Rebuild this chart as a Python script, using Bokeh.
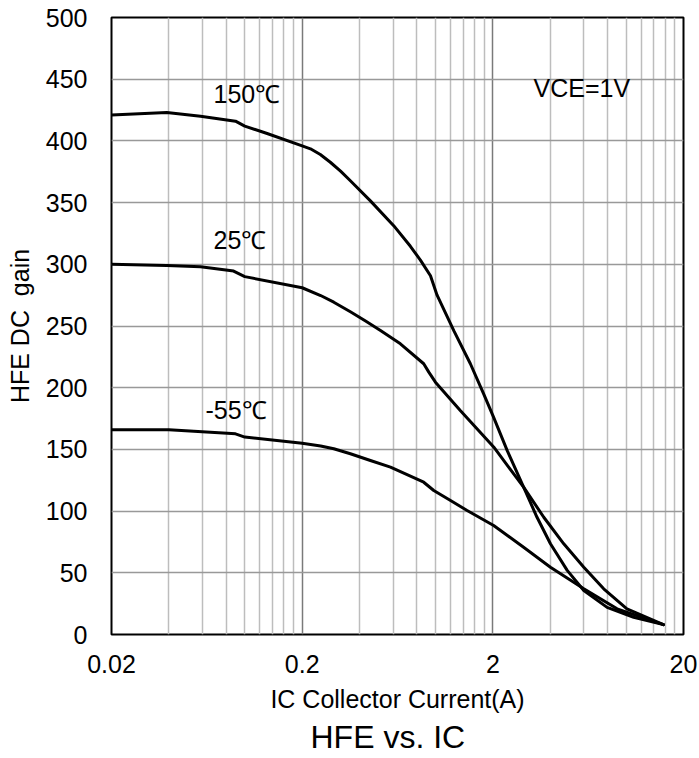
from bokeh.plotting import figure
from bokeh.models import Range1d, FixedTicker
from bokeh.core.properties import value
from bokeh.embed import file_html
from bokeh.resources import INLINE

# ---- data ----
ic_150 = [0.02, 0.039, 0.0586, 0.0894, 0.1, 0.131, 0.2, 0.221, 0.249, 0.281, 0.318, 0.358,
          0.456, 0.604, 0.739, 0.834, 0.942, 1.02, 1.25, 1.525, 1.79, 2.02, 2.38, 2.9,
          3.41, 4.01, 4.91, 6.0, 7.95, 10.96, 15.7]
hfe_150 = [421, 423, 420, 416, 412, 406, 396, 393.6, 389, 382.7, 375.5, 367.7,
           351.4, 331.3, 314.6, 303.4, 290.7, 275, 246, 219.4, 195, 176, 149, 119.4,
           95, 73.5, 52, 35.7, 22, 14, 8]

ic_25 = [0.02, 0.039, 0.0586, 0.0874, 0.1, 0.2, 0.25, 0.293, 0.358, 0.43, 0.515, 0.655,
         0.868, 0.923, 1.0, 1.35, 2.02, 2.9, 3.7, 4.71, 6.0, 7.63, 10.1, 15.7]
hfe_25 = [300, 299, 298, 294.5, 290, 281, 274.7, 269.3, 261.5, 254, 246.4, 235.6,
          219.4, 212.6, 204.5, 181.5, 152, 119.4, 95, 73.5, 54.5, 37, 20.8, 8]

ic_m55 = [0.02, 0.04, 0.0894, 0.1, 0.2, 0.25, 0.293, 0.358, 0.456, 0.581, 0.868, 0.98, 1.2,
          1.466, 2.02, 2.9, 4.01, 6.0, 8.97, 15.7]
hfe_m55 = [166, 166, 162.6, 160, 155, 152.8, 150.5, 146.5, 141, 135.6, 123.4, 116.7, 108.6,
           100.5, 88.3, 70.7, 54.5, 37, 20.8, 8]

label_text = ["150℃", "25℃", "-55℃", "VCE=1V"]
label_x = [0.0686, 0.0686, 0.0622, 3.27]
label_y = [438, 320, 182, 443]

x_ticks = [0.02, 0.2, 2, 20]
x_tick_labels = ["0.02", "0.2", "2", "20"]
x_minor_ticks = [0.04, 0.06, 0.08, 0.1, 0.12, 0.14, 0.16, 0.18,
                 0.4, 0.6, 0.8, 1.0, 1.2, 1.4, 1.6, 1.8,
                 4, 6, 8, 10, 12, 14, 16, 18]
y_ticks = [0, 50, 100, 150, 200, 250, 300, 350, 400, 450, 500]

FONT = "Liberation Sans"

p = figure(width=699, height=758, x_axis_type="log",
           x_range=Range1d(0.02, 20), y_range=Range1d(0, 500),
           output_backend="svg", toolbar_location=None,
           min_border_left=111, min_border_right=16, min_border_top=17,
           min_border_bottom=124,
           title="HFE vs. IC", title_location="below")

p.xaxis.ticker = FixedTicker(ticks=x_ticks, minor_ticks=x_minor_ticks)
p.xaxis.major_label_overrides = {t: l for t, l in zip(x_ticks, x_tick_labels)}
p.yaxis.ticker = FixedTicker(ticks=y_ticks)

p.xgrid.grid_line_color = "#7a7a7a"
p.xgrid.grid_line_width = 1.5
p.xgrid.minor_grid_line_color = "#bdbdbd"
p.xgrid.minor_grid_line_width = 1.5
p.ygrid.grid_line_color = "#999999"
p.ygrid.grid_line_width = 1.5

for ax in (p.xaxis, p.yaxis):
    ax.axis_line_color = None
    ax.major_tick_line_color = None
    ax.minor_tick_line_color = None
    ax.major_tick_out = 0
    ax.major_tick_in = 0
    ax.minor_tick_out = 0
    ax.minor_tick_in = 0
    ax.major_label_text_font = FONT
    ax.major_label_text_font_size = "25px"
    ax.major_label_text_color = "black"
    ax.axis_label_text_font = FONT
    ax.axis_label_text_font_size = "25px"
    ax.axis_label_text_font_style = "normal"
    ax.axis_label_text_color = "black"

p.xaxis.axis_label = "IC Collector Current(A)"
p.yaxis.axis_label = "HFE DC\u00a0 gain"
p.xaxis.major_label_standoff = 20
p.xaxis.axis_label_standoff = 9
p.yaxis.major_label_standoff = 24
p.yaxis.axis_label_standoff = 9

p.title.text_font = FONT
p.title.text_font_size = "32px"
p.title.text_font_style = "normal"
p.title.text_color = "black"
p.title.align = "left"
p.title.offset = 199
p.title.standoff = 3

p.outline_line_color = "black"
p.outline_line_width = 2

for xs, ys in ((ic_150, hfe_150), (ic_25, hfe_25), (ic_m55, hfe_m55)):
    p.line(xs, ys, line_color="black", line_width=3, line_join="round", line_cap="round")

p.text(x=label_x, y=label_y, text=label_text, text_font=value(FONT),
       text_font_size="25px", text_baseline="middle", text_align="left", text_color="black")

open("out.html", "w").write(file_html(p, INLINE))
